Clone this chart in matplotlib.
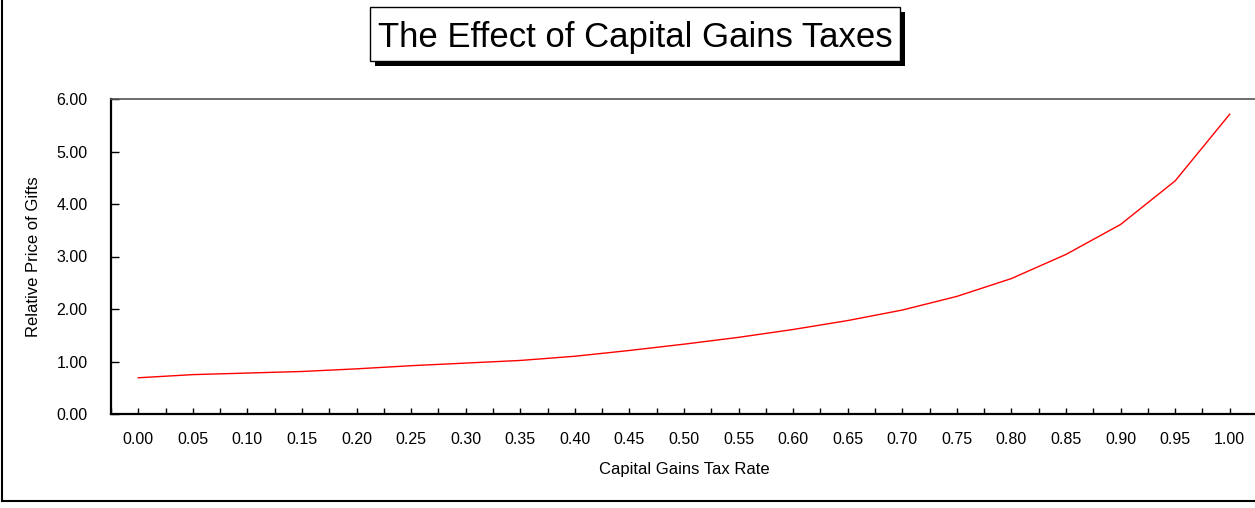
import matplotlib
matplotlib.use("Agg")
import matplotlib.pyplot as plt
from matplotlib.patches import Rectangle
from matplotlib.lines import Line2D

plt.rcParams["font.family"] = ["Liberation Sans", "DejaVu Sans"]

# tax rates and the resulting relative price of gifts
tax_rates = ["0.00", "0.05", "0.10", "0.15", "0.20", "0.25", "0.30", "0.35", "0.40", "0.45",
             "0.50", "0.55", "0.60", "0.65", "0.70", "0.75", "0.80", "0.85", "0.90", "0.95", "1.00"]
rel_price = [0.69, 0.75, 0.78, 0.81, 0.86, 0.92, 0.97, 1.02, 1.10, 1.21,
             1.33, 1.46, 1.61, 1.78, 1.98, 2.24, 2.58, 3.04, 3.61, 4.44, 5.71]
y_ticks = [0, 1, 2, 3, 4, 5, 6]

W, H = 1255, 508
fig = plt.figure(figsize=(W / 100, H / 100), dpi=100)

# plot area in pixel terms -> figure fractions
left, right, top, bottom = 111, 1257, 99, 414
ax = fig.add_axes([left / W, 1 - bottom / H, (right - left) / W, (bottom - top) / H])

idx = list(range(len(tax_rates)))
ax.plot(idx, rel_price, color="#ff0000", lw=1.0)

ax.set_xlim(-0.5, len(tax_rates) - 0.5)
ax.set_ylim(0, 6)
ax.set_xticks(idx)
ax.set_xticklabels(tax_rates)
ax.set_xticks([i - 0.5 for i in range(len(tax_rates) + 1)], minor=True)
ax.set_yticks(y_ticks)
ax.set_yticklabels([f"{v:.2f}" for v in y_ticks])

ax.tick_params(axis="x", which="both", direction="in", length=4, width=1, pad=13,
               labelsize=11.5, color="black")
ax.tick_params(axis="y", direction="in", length=6, width=1, pad=17, labelsize=11.5)

for s in ("left", "bottom"):
    ax.spines[s].set_linewidth(1.6)
    ax.spines[s].set_color("black")
ax.spines["top"].set_linewidth(1.2)
ax.spines["top"].set_color("#555555")
ax.spines["right"].set_visible(False)

ax.set_xlabel("Capital Gains Tax Rate", fontsize=12, labelpad=11)
ax.set_ylabel("Relative Price of Gifts", fontsize=12, labelpad=11)

# title box with a drop shadow
bx0, bx1, by0, by1 = 370, 900, 7, 61
sh = 5
fig.patches.append(Rectangle(((bx0 + sh) / W, 1 - (by1 + sh) / H), (bx1 - bx0) / W, (by1 - by0) / H,
                             transform=fig.transFigure, facecolor="black", edgecolor="none", zorder=1))
fig.patches.append(Rectangle((bx0 / W, 1 - by1 / H), (bx1 - bx0) / W, (by1 - by0) / H,
                             transform=fig.transFigure, facecolor="white", edgecolor="black",
                             lw=1.0, zorder=2))
fig.text((bx0 + bx1) / 2 / W, 1 - 47 / H, "The Effect of Capital Gains Taxes",
         ha="center", va="baseline", fontsize=25, zorder=3)

# outer chart frame (left and bottom edges)
fig.add_artist(Line2D([2 / W, 2 / W], [1, 1 - 501 / H], transform=fig.transFigure, color="black", lw=1.5))
fig.add_artist(Line2D([2 / W, 1], [1 - 501 / H, 1 - 501 / H], transform=fig.transFigure, color="black", lw=1.5))

fig.savefig("out.png", dpi=100)
